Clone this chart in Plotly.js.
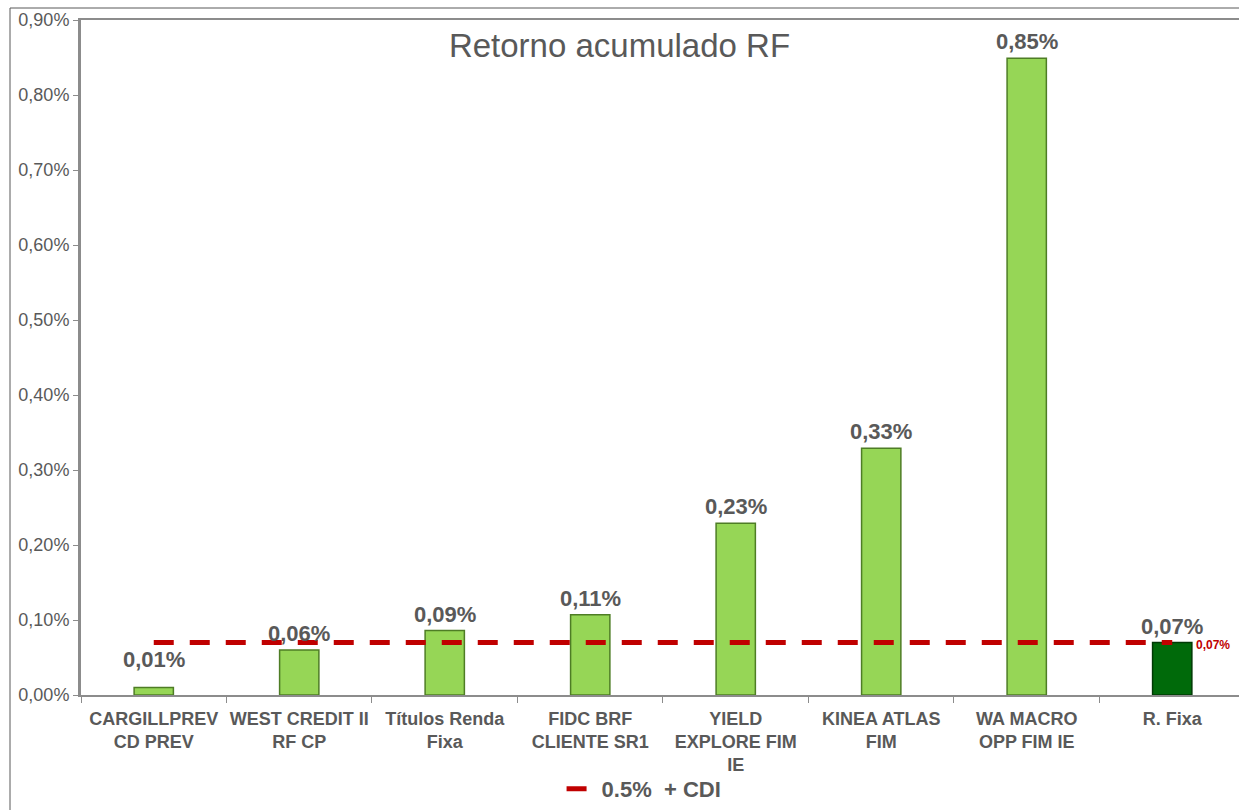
<!DOCTYPE html>
<html>
<head>
<meta charset="utf-8">
<script src="https://cdn.plot.ly/plotly-3.0.1.min.js"></script>
<style>
html,body{margin:0;padding:0;background:#fff;}
#chart{width:1239px;height:810px;}
</style>
</head>
<body>
<div id="chart"></div>
<script>
const categories = [
  "CARGILLPREV<br>CD PREV",
  "WEST CREDIT II<br>RF CP",
  "Títulos Renda<br>Fixa",
  "FIDC BRF<br>CLIENTE SR1",
  "YIELD<br>EXPLORE FIM<br>IE",
  "KINEA ATLAS<br>FIM",
  "WA MACRO<br>OPP FIM IE",
  "R. Fixa"
];
const returns = [0.0001, 0.0006, 0.00086, 0.00107, 0.00229, 0.00329, 0.00849, 0.0007];
const benchmark = [0.0007, 0.0007, 0.0007, 0.0007, 0.0007, 0.0007, 0.0007, 0.0007];
const benchmarkName = "0.5%&nbsp;&nbsp;+ CDI";
const chartTitle = "Retorno acumulado RF";
const yTickVals = [0, 0.001, 0.002, 0.003, 0.004, 0.005, 0.006, 0.007, 0.008, 0.009];

const fmt = v => (v * 100).toFixed(2).replace('.', ',') + '%';
const lightGreen = '#96d656', lightEdge = '#4e7d25';
const darkGreen = '#006a0a', darkEdge = '#003a05';
const barColors = categories.map((c, i) => i === categories.length - 1 ? darkGreen : lightGreen);
const barEdges = categories.map((c, i) => i === categories.length - 1 ? darkEdge : lightEdge);

const grey = '#595959';
const font = 'Arial, "Liberation Sans", sans-serif';

const traces = [
  {
    type: 'bar', x: categories, y: returns, width: 0.27,
    marker: {color: barColors, line: {color: barEdges, width: 1.5}},
    showlegend: false, hoverinfo: 'skip'
  },
  {
    type: 'scatter', mode: 'lines', x: categories, y: benchmark, name: benchmarkName,
    line: {color: '#c00000', width: 5, dash: '20px,16px'},
    showlegend: true, hoverinfo: 'skip'
  }
];

const annotations = returns.map((v, i) => ({
  x: categories[i], y: v, xref: 'x', yref: 'y', text: fmt(v),
  showarrow: false, yanchor: 'bottom', yshift: i === 0 ? 14 : 2,
  font: {family: font, size: 22, color: grey, weight: 'bold'}
}));
annotations.push({
  x: categories[categories.length - 1], y: benchmark[benchmark.length - 1], xref: 'x', yref: 'y',
  text: fmt(benchmark[benchmark.length - 1]), showarrow: false, xanchor: 'left', xshift: 22, yshift: -2,
  font: {family: font, size: 12, color: '#c00000', weight: 'bold'}
});

const layout = {
  width: 1239, height: 810,
  margin: {l: 81, r: 0, t: 20, b: 115},
  paper_bgcolor: '#fff', plot_bgcolor: '#fff',
  separators: ',.',
  font: {family: font, color: grey},
  title: {
    text: chartTitle, xref: 'container', yref: 'container', x: 0.5, xanchor: 'center',
    y: 1 - 45 / 810, yanchor: 'middle',
    font: {family: font, size: 33, color: grey}
  },
  xaxis: {
    type: 'category', range: [-0.5, 7.459],
    showline: true, linecolor: '#8c8c8c', linewidth: 2, mirror: true,
    ticks: 'outside', tickson: 'boundaries', ticklen: 6, tickcolor: '#8c8c8c',
    ticklabelstandoff: 6, tickangle: 0, automargin: false,
    showgrid: false, zeroline: false,
    tickfont: {family: font, size: 18, color: grey, weight: 'bold'}
  },
  yaxis: {
    range: [0, 0.009], tickvals: yTickVals, tickformat: '.2%',
    showline: true, linecolor: '#8c8c8c', linewidth: 3,
    ticks: 'outside', ticklen: 5, tickcolor: '#8c8c8c',
    showgrid: false, zeroline: false,
    tickfont: {family: font, size: 18, color: grey}
  },
  legend: {
    orientation: 'h', x: 0.415, xanchor: 'left', y: -0.14, yanchor: 'middle',
    font: {family: font, size: 22, color: grey, weight: 'bold'},
    bgcolor: 'rgba(0,0,0,0)'
  },
  shapes: [
    {type: 'line', xref: 'paper', yref: 'paper', x0: -71/1158, x1: 1.1, y0: 1 + 12/675, y1: 1 + 12/675,
     line: {color: '#595959', width: 1}},
    {type: 'line', xref: 'paper', yref: 'paper', x0: -71/1158, x1: -71/1158, y0: 1 + 12/675, y1: -0.3,
     line: {color: '#595959', width: 1}}
  ],
  annotations: annotations
};

Plotly.newPlot('chart', traces, layout, {displayModeBar: false, staticPlot: true});
</script>
</body>
</html>
